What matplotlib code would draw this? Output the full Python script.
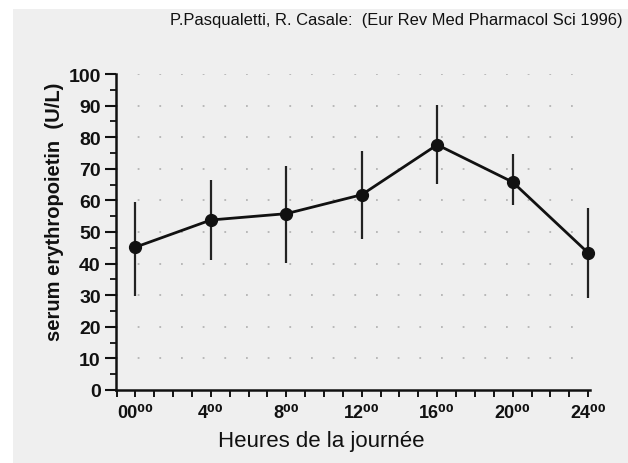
import matplotlib
matplotlib.use("Agg")
import matplotlib.pyplot as plt
from matplotlib.patches import Rectangle
from matplotlib.ticker import MultipleLocator

hours = [0, 4, 8, 12, 16, 20, 24]
means = [45.2, 53.8, 55.8, 61.8, 77.6, 65.8, 43.4]
upper = [59.5, 66.5, 70.8, 75.6, 90.3, 74.6, 57.6]
lower = [29.7, 41.0, 40.3, 47.9, 65.3, 58.4, 29.2]
tick_labels = ["00⁰⁰", "4⁰⁰", "8⁰⁰", "12⁰⁰", "16⁰⁰", "20⁰⁰", "24⁰⁰"]
y_ticks = list(range(0, 101, 10))

title_text = "P.Pasqualetti, R. Casale:  (Eur Rev Med Pharmacol Sci 1996)"
ylabel_text = "serum erythropoietin  (U/L)"
xlabel_text = "Heures de la journée"

plt.rcParams['font.family'] = ['Liberation Sans', 'DejaVu Sans']

W, H = 628, 464
fig = plt.figure(figsize=(W / 100, H / 100), dpi=100, facecolor='white')
fig.patches.append(Rectangle((13 / W, 0), 1 - 13 / W, 1 - 10 / H,
                             transform=fig.transFigure, facecolor='#efefef',
                             edgecolor='none', zorder=-10))

ax = fig.add_axes([116 / W, 1 - 391 / H, (590 - 116) / W, (391 - 75) / H])
ax.set_facecolor('none')

ax.set_xlim(-1.03, 24.1)
ax.set_ylim(0, 100)

# faint dotted grid
for v in y_ticks[1:]:
    ax.axhline(v, color='#b4b4b4', lw=1.3, ls=(0, (1, 11)), zorder=0)

yerr = [[m - l for m, l in zip(means, lower)], [u - m for u, m in zip(upper, means)]]
ax.errorbar(hours, means, yerr=yerr, fmt='none', ecolor='#222222', elinewidth=1.6,
            capsize=0, zorder=2, clip_on=False)
ax.plot(hours, means, color='#111111', lw=2.0, marker='o', markersize=8.5,
        markerfacecolor='#111111', markeredgecolor='#111111', zorder=3, clip_on=False)

for s in ['top', 'right']:
    ax.spines[s].set_visible(False)
for s in ['left', 'bottom']:
    ax.spines[s].set_linewidth(1.8)
    ax.spines[s].set_color('#111111')

ax.set_yticks(y_ticks)
ax.yaxis.set_minor_locator(MultipleLocator(5))
ax.set_yticklabels([str(v) for v in y_ticks], fontsize=14, fontweight='bold', color='#111111')
ax.tick_params(axis='y', which='major', direction='out', length=8, width=1.5, pad=3, colors='#111111')
ax.tick_params(axis='y', which='minor', direction='out', length=4, width=1.3, colors='#111111')

ax.set_xticks(hours)
ax.set_xticklabels(tick_labels, fontsize=13, fontweight='bold', color='#111111')
ax.xaxis.set_minor_locator(MultipleLocator(1))
ax.tick_params(axis='x', which='major', direction='out', length=5, width=1.4, pad=5, colors='#111111')
ax.tick_params(axis='x', which='minor', direction='out', length=5, width=1.4, colors='#111111')

fig.text(623 / W, 1 - 21 / H, title_text, ha='right', va='center', fontsize=11.9, color='#111111')
fig.text(55 / W, 1 - 212 / H, ylabel_text, rotation=90, ha='center', va='center',
         fontsize=14.5, fontweight='bold', color='#111111')
fig.text(321 / W, 1 - 441 / H, xlabel_text, ha='center', va='center', fontsize=16, color='#111111')

fig.savefig('out.png', dpi=100, facecolor=fig.get_facecolor())
